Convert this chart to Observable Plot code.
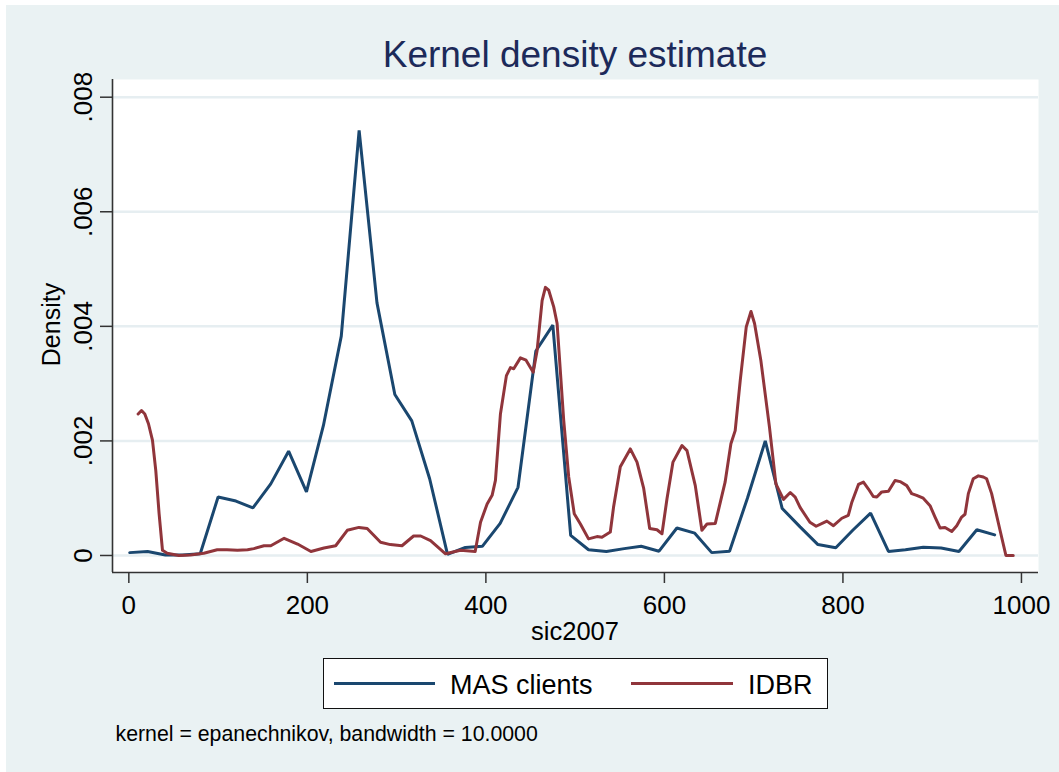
<!DOCTYPE html>
<html>
<head>
<meta charset="utf-8">
<script src="https://cdn.jsdelivr.net/npm/d3@7"></script>
<script src="https://cdn.jsdelivr.net/npm/@observablehq/plot@0.6"></script>
<style>
  html, body { margin: 0; padding: 0; background: #ffffff; }
  body { width: 1059px; height: 772px; position: relative; overflow: hidden;
         font-family: "Liberation Sans", Arial, Helvetica, sans-serif; }
  .abs { position: absolute; white-space: nowrap; }
  #bg { position: absolute; left: 6px; top: 5px; width: 1053px; height: 767px; background: #eaf2f3; }
  #chart { position: absolute; left: 0; top: 0; }
</style>
</head>
<body>
<div id="bg"></div>
<div id="chart"></div>
<div class="abs" id="title" style="left:112px;width:926px;top:35.5px;font-size:37px;line-height:37px;text-align:center;color:#1c2a5a;">Kernel density estimate</div>
<div class="abs" id="ylab" style="left:-49px;width:200px;top:311.5px;height:25px;font-size:25px;line-height:25px;text-align:center;color:#000;transform:rotate(-90deg);">Density</div>
<div class="abs" id="xlab" style="left:375px;width:400px;top:619px;font-size:25.5px;line-height:25.5px;text-align:center;color:#000;">sic2007</div>
<div class="abs" id="legend" style="left:323px;top:658px;width:505px;height:51px;box-sizing:border-box;border:1px solid #111;background:#fff;"></div>
<div class="abs" style="left:115.5px;top:723.5px;font-size:21.3px;line-height:21.3px;color:#000;">kernel = epanechnikov, bandwidth = 10.0000</div>
<script>
// ---- data ----
const seriesNames = ["MAS clients", "IDBR"];
const seriesColors = ["#1a476f", "#90353b"];

const masX = [1, 21, 41, 60, 80, 100, 120, 139, 159, 179, 199, 218, 238, 258, 278, 298, 317, 337, 357, 377,
  396, 416, 436, 456, 475, 495, 515, 535, 555, 574, 594, 614, 634, 653, 673, 693, 713, 732, 752, 772,
  792, 811, 831, 851, 870, 890, 910, 930, 950, 970];
const masDensity = [0.00005, 0.00007, 0.00001, 0.00001, 0.00003, 0.00102, 0.00095, 0.00083, 0.00125, 0.00182,
  0.00111, 0.00227, 0.00383, 0.00742, 0.00441, 0.00281, 0.00235, 0.00134, 0.00002, 0.00014,
  0.00016, 0.00056, 0.00119, 0.00357, 0.00402, 0.00035, 0.00010, 0.00007, 0.00012, 0.00016,
  0.000075, 0.00048, 0.00039, 0.00005, 0.000075, 0.00100, 0.00200, 0.00082, 0.00050, 0.00019,
  0.000135, 0.00044, 0.00074, 0.00007, 0.00010, 0.000145, 0.00013, 0.00007, 0.00045, 0.00036];

const idbrX = [10.4, 14.2, 17.9, 22, 26.5, 30.2, 33.9, 37.7, 43, 56, 69, 84, 99, 110, 121.7, 133, 140, 151.4, 159, 174,
  189, 204, 218.6, 231.7, 244.7, 257.8, 267, 282, 293, 306, 319, 327, 338, 354.8, 371.6, 388, 394, 401.4, 407, 410.7,
  416.3, 423, 427.5, 431.2, 438.7, 445, 453, 457.4, 463, 466.7, 470.4, 476, 479.8, 487.2, 492.8, 499, 505.9, 515, 524.5, 530,
  539.4, 543, 550.6, 561.8, 569.3, 576.8, 583.5, 591.7, 597.3, 602.9, 609.6, 619.7, 625.3, 634.6, 642, 647.7, 657, 668, 674.5, 679.3,
  685, 691.7, 697, 701, 708, 717.7, 724.9, 733.4, 741, 746.5, 752, 763, 770, 782, 789.4, 798.8, 806, 810, 817.4, 823,
  828.6, 834, 838, 843.5, 851, 858.4, 864, 871.5, 877, 882.6, 890, 897.6, 903.2, 908.8, 914.4, 921.9, 927.5, 933, 936.8, 940.5,
  946, 951.7, 957.3, 961, 966.6, 976, 982.6, 990.8];
const idbrDensity = [0.00247, 0.00253, 0.00247, 0.00230, 0.00201, 0.00148, 0.00073, 0.00009, 0.00004, 0.0, 0.00001, 0.00004, 0.00010, 0.00010, 0.00009, 0.00010, 0.00012, 0.00017, 0.00017, 0.00030,
  0.00020, 0.00007, 0.00013, 0.00017, 0.00044, 0.00049, 0.00047, 0.00023, 0.00019, 0.00017, 0.00034, 0.00034, 0.00026, 0.00003, 0.00009, 0.00007, 0.00058, 0.00090, 0.00105, 0.00131,
  0.00247, 0.00314, 0.00328, 0.00326, 0.00345, 0.00341, 0.00320, 0.00358, 0.00445, 0.00468, 0.00463, 0.00434, 0.00405, 0.00236, 0.00137, 0.00073, 0.00055, 0.00029, 0.00033, 0.00032,
  0.00041, 0.00084, 0.00155, 0.00186, 0.00163, 0.00117, 0.00047, 0.00045, 0.00038, 0.00099, 0.00163, 0.00192, 0.00183, 0.00122, 0.00044, 0.00055, 0.00056, 0.00128, 0.00195, 0.00218,
  0.00306, 0.00399, 0.00426, 0.00405, 0.00341, 0.00224, 0.00125, 0.00098, 0.00110, 0.00102, 0.00084, 0.00058, 0.00051, 0.00060, 0.00052, 0.00065, 0.00070, 0.00093, 0.00124, 0.00128,
  0.00116, 0.00103, 0.00102, 0.00111, 0.00112, 0.00131, 0.00129, 0.00122, 0.00108, 0.00105, 0.00100, 0.00087, 0.00067, 0.00048, 0.00049, 0.00042, 0.00052, 0.00067, 0.00072, 0.00108,
  0.00134, 0.00139, 0.00137, 0.00134, 0.00108, 0.00044, 0.0, 0.0];

const xTicks = [0, 200, 400, 600, 800, 1000];
const xTickLabels = ["0", "200", "400", "600", "800", "1000"];
const yTicks = [0, 0.002, 0.004, 0.006, 0.008];
const yTickLabels = ["0", ".002", ".004", ".006", ".008"];

// ---- build tables ----
const mas = masX.map((x, i) => ({x, y: masDensity[i]}));
const idbr = idbrX.map((x, i) => ({x, y: idbrDensity[i]}));

const xDomain = [-18.3, 1019.1];
const yDomain = [-0.000297, 0.008309];

const chart = Plot.plot({
  width: 1059,
  height: 640,
  marginLeft: 112,
  marginRight: 21,
  marginTop: 79,
  marginBottom: 68,
  x: {domain: xDomain},
  y: {domain: yDomain},
  style: {background: "transparent", color: "#000", fontFamily: "'Liberation Sans', Arial, Helvetica, sans-serif", fontSize: "26px"},
  marks: [
    Plot.frame({fill: "white", stroke: null}),
    Plot.gridY(yTicks, {stroke: "#e6eef1", strokeOpacity: 1, strokeWidth: 2.5}),
    Plot.line(mas, {x: "x", y: "y", stroke: seriesColors[0], strokeWidth: 3, strokeLinejoin: "miter"}),
    Plot.line(idbr, {x: "x", y: "y", stroke: seriesColors[1], strokeWidth: 3}),
    Plot.ruleX([xDomain[0]], {stroke: "#333", strokeWidth: 1.6}),
    Plot.ruleY([yDomain[0]], {stroke: "#333", strokeWidth: 1.6}),
    Plot.axisY(yTicks, {
      tickFormat: (d) => yTickLabels[yTicks.indexOf(d)],
      tickRotate: -90, tickSize: 12, tickPadding: 9,
      fontSize: 26, stroke: "#333", strokeWidth: 1.5, label: null
    }),
    Plot.axisX(xTicks, {
      tickFormat: (d) => xTickLabels[xTicks.indexOf(d)],
      tickSize: 11, tickPadding: 12, fontSize: 26, stroke: "#333", strokeWidth: 1.5, label: null
    })
  ]
});
document.getElementById("chart").appendChild(chart);

// ---- legend ----
const legend = document.getElementById("legend");
const legendItems = [
  {lineLeft: 334 - 323, lineWidth: 101, textLeft: 450 - 323},
  {lineLeft: 631 - 323, lineWidth: 102, textLeft: 748 - 323}
];
seriesNames.forEach((name, i) => {
  const it = legendItems[i];
  const ln = document.createElement("div");
  ln.style.cssText = `position:absolute;left:${it.lineLeft - 1}px;top:${683.3 - 658 - 1 - 1.5}px;width:${it.lineWidth}px;height:3px;background:${seriesColors[i]};`;
  legend.appendChild(ln);
  const tx = document.createElement("div");
  tx.textContent = name;
  tx.style.cssText = `position:absolute;left:${it.textLeft - 1}px;top:${685 - 658 - 1 - 13.2}px;font-size:27px;line-height:27px;color:#000;white-space:nowrap;`;
  legend.appendChild(tx);
});
</script>
</body>
</html>
